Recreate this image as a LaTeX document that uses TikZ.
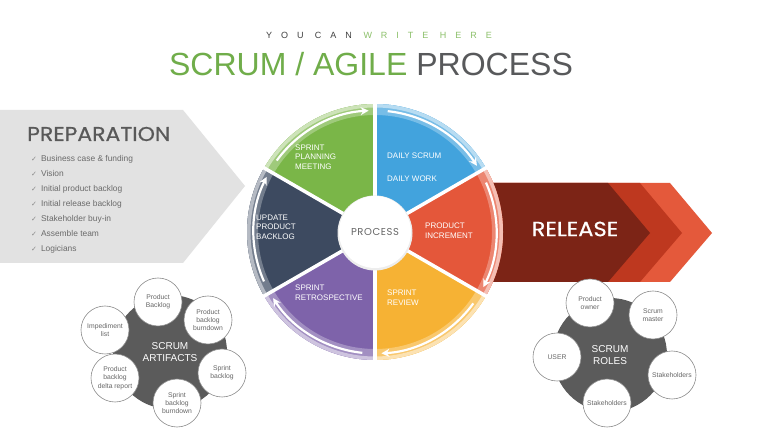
\documentclass[tikz,border=0pt]{standalone}
\usepackage{fontspec}
\setmainfont{Liberation Sans}
\newfontfamily\pop{Poppins}
\newfontfamily\popm[FakeBold=0.6,FakeStretch=1.1]{Poppins}
\newfontfamily\dejavu{DejaVu Sans}
\usetikzlibrary{arrows.meta}
\definecolor{prepgray}{HTML}{E2E2E2}
\definecolor{preptext}{HTML}{595959}
\definecolor{listtext}{HTML}{6A6A6A}
\definecolor{titlegreen}{HTML}{70AD4A}
\definecolor{titlegray}{HTML}{58595B}
\definecolor{subgray}{HTML}{404040}
\definecolor{subgreen}{HTML}{8CC06A}
\definecolor{rel1}{HTML}{7C2416}
\definecolor{rel2}{HTML}{BE381F}
\definecolor{rel3}{HTML}{E4593B}
\definecolor{sgreen}{HTML}{7AB648}
\definecolor{sblue}{HTML}{42A3DD}
\definecolor{sred}{HTML}{E4573A}
\definecolor{syellow}{HTML}{F6B234}
\definecolor{spurple}{HTML}{7E63AA}
\definecolor{snavy}{HTML}{3D4A60}
\definecolor{blobgray}{HTML}{5B5B5B}
\definecolor{circtext}{HTML}{666666}
\newcommand{\ck}{{\dejavu\fontsize{7}{7}\selectfont\color{listtext!80}✓}\hspace{4pt}}
\begin{document}
\begin{tikzpicture}[x=1pt,y=1pt,
  seglabel/.style={text=white, font=\fontsize{8}{9.6}\selectfont, align=left, anchor=west, inner sep=0},
  blob/.style={circle, fill=blobgray, minimum size=114, inner sep=0, text=white, align=center, font=\fontsize{10}{11.5}\selectfont},
  item/.style={circle, fill=white, draw=black!45, line width=0.6, minimum size=48, inner sep=0, text=circtext, align=center, font=\fontsize{6.8}{8.3}\selectfont}]
\useasboundingbox (0,0) rectangle (760,428);
\fill[white] (0,0) rectangle (760,428);

% titles
\node[font=\fontsize{9}{9}\selectfont\addfontfeature{LetterSpace=100}, text=subgray, inner sep=0] (sub) at (379,393) {YOU CAN {\color{subgreen}WRITE HERE}};
\node[font=\fontsize{32}{32}\selectfont, inner sep=0] (title) at (371,364) {{\color{titlegreen}SCRUM / AGILE}\hspace{9pt}{\color{titlegray}PROCESS}};

% preparation
\fill[prepgray] (0,318) -- (183,318) -- (245,242) -- (183,165) -- (0,165) -- cycle;
\node[anchor=west, font=\popm\fontsize{20}{20}\selectfont, text=preptext, inner sep=0] (prep) at (27,294) {PREPARATION};
\node[anchor=west, align=left, font=\fontsize{8.4}{15}\selectfont, text=listtext, inner sep=0] (list) at (31,224)
  {\ck Business case \& funding\\ \ck Vision\\ \ck Initial product backlog\\ \ck Initial release backlog\\ \ck Stakeholder buy-in\\ \ck Assemble team\\ \ck Logicians};

% release
\fill[rel3] (490,245) -- (670,245) -- (712,195) -- (670,146) -- (490,146) -- cycle;
\fill[rel2] (490,245) -- (640,245) -- (682,195) -- (640,146) -- (490,146) -- cycle;
\fill[rel1] (490,245) -- (608,245) -- (650,195) -- (608,146) -- (490,146) -- cycle;
\node[font=\popm\fontsize{20.5}{20.5}\selectfont, text=white, inner sep=0] (release) at (575,199) {RELEASE};

% wheel
\begin{scope}[shift={(375,196)}]
\foreach \s/\e/\c in {150/90/sgreen, 90/30/sblue, 30/-30/sred, -30/-90/syellow, -90/-150/spurple, -150/-210/snavy} {
  \fill[\c] (0,0) -- (\s:128) arc[start angle=\s, end angle=\e, radius=128] -- cycle;
  \fill[\c!72!white] (\s:128) arc[start angle=\s, end angle=\e, radius=128] -- (\e:117) arc[start angle=\e, end angle=\s, radius=117] -- cycle;
  \fill[\c!38!white] (\s:128) arc[start angle=\s, end angle=\e, radius=128] -- (\e:124.5) arc[start angle=\e, end angle=\s, radius=124.5] -- cycle;
  \draw[white, line width=2.2, -{Stealth[length=8pt,width=8pt]}] ({\s-6}:121.5) arc[start angle={\s-6}, end angle={\e+3}, radius=121.5];
}
\foreach \a in {90,30,-30,-90,-150,150} \draw[white, line width=3.5] (0,0) -- (\a:131);
\end{scope}
\node[circle, fill=black!7, minimum size=75, inner sep=0] (shadow) at (375,195) {};
\node[circle, fill=white, minimum size=72, inner sep=0, font=\pop\fontsize{10}{10}\selectfont\addfontfeature{LetterSpace=6}, text=circtext] (process) at (375,196) {PROCESS};

\node[seglabel] (plan) at (295,271) {SPRINT\\PLANNING\\MEETING};
\node[seglabel] (daily) at (387,260.5) {DAILY SCRUM\\[13.5pt]DAILY WORK};
\node[seglabel] (incr) at (425,197.5) {PRODUCT\\INCREMENT};
\node[seglabel] (review) at (387,130) {SPRINT\\REVIEW};
\node[seglabel] (retro) at (295,135) {SPRINT\\RETROSPECTIVE};
\node[seglabel] (update) at (256,201) {UPDATE\\PRODUCT\\BACKLOG};

% scrum artifacts
\node[blob] (art) at (170,76) {SCRUM\\ARTIFACTS};
\node[item] (a1) at (158,126) {Product\\Backlog};
\node[item] (a2) at (208,108) {Product\\backlog\\burndown};
\node[item] (a3) at (222,55) {Sprint\\backlog};
\node[item] (a4) at (177,25) {Sprint\\backlog\\burndown};
\node[item] (a5) at (115,50) {Product\\backlog\\delta report};
\node[item] (a6) at (105,98) {Impediment\\list};

% scrum roles
\node[blob] (roles) at (610,73) {SCRUM\\ROLES};
\node[item] (r1) at (590,125) {Product\\owner};
\node[item] (r2) at (653,113) {Scrum\\master};
\node[item] (r3) at (672,53) {Stakeholders};
\node[item] (r4) at (607,25) {Stakeholders};
\node[item] (r5) at (557,71) {USER};
\end{tikzpicture}
\end{document}
